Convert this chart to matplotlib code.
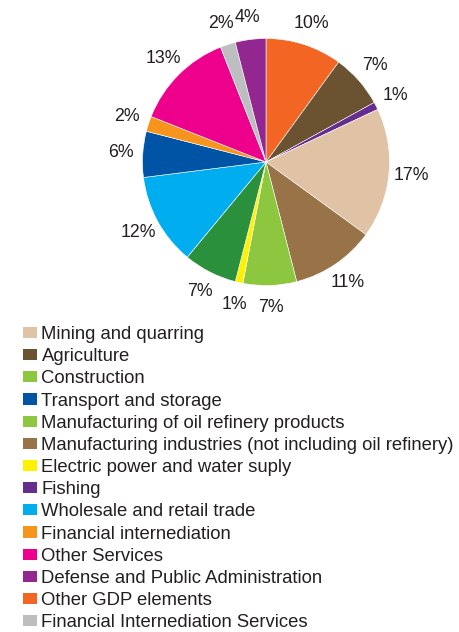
import matplotlib.pyplot as plt
from matplotlib.patches import Patch

plt.rcParams['font.family'] = ['Liberation Sans', 'DejaVu Sans']

# legend order
categories = ["Mining and quarring", "Agriculture", "Construction", "Transport and storage",
              "Manufacturing of oil refinery products",
              "Manufacturing industries (not including oil refinery)",
              "Electric power and water suply", "Fishing", "Wholesale and retail trade",
              "Financial internediation", "Other Services", "Defense and Public Administration",
              "Other GDP elements", "Financial Internediation Services"]
shares = [17, 7, 7, 6, 7, 11, 1, 1, 12, 2, 13, 4, 10, 2]
legend_colors = ["#e0c3a5", "#6b5332", "#8dc63f", "#0054a6", "#8dc63f", "#977347", "#fff200",
                 "#662d91", "#00aeef", "#f7941d", "#ec008c", "#92278f", "#f26522", "#bcbec0"]
slice_colors = list(legend_colors)
slice_colors[4] = "#2a903b"   # darker green used in the pie itself

# clockwise order of slices from 12 o'clock
pie_order = [12, 1, 7, 0, 5, 2, 6, 4, 8, 3, 9, 10, 13, 11]

W, H = 460, 632
fig = plt.figure(figsize=(W / 100, H / 100), dpi=100)

cx, cy, r = 266, 162, 123.5
ax = fig.add_axes([(cx - r) / W, 1 - (cy + r) / H, 2 * r / W, 2 * r / H])
vals = [shares[i] for i in pie_order]
cols = [slice_colors[i] for i in pie_order]
wedges, texts = ax.pie(vals, colors=cols, startangle=90, counterclock=False,
                       labels=[f"{v}%" for v in vals], labeldistance=1.18,
                       wedgeprops=dict(edgecolor='white', linewidth=0.4),
                       textprops=dict(fontsize=12.8, color='#231f20'))
for t in texts:
    t.set_ha('center')
    t.set_va('center')
ax.set_xlim(-1, 1)
ax.set_ylim(-1, 1)
ax.set_aspect('equal')

handles = [Patch(facecolor=c, edgecolor='none') for c in legend_colors]
fig.legend(handles, categories, loc='upper left', bbox_to_anchor=(23 / W, 1 - 326 / H),
           frameon=False, fontsize=13.3, handlelength=0.75, handleheight=0.55,
           handletextpad=0.25, labelspacing=0.28, borderaxespad=0, borderpad=0,
           labelcolor='#231f20')

fig.savefig("out.png", dpi=100)
